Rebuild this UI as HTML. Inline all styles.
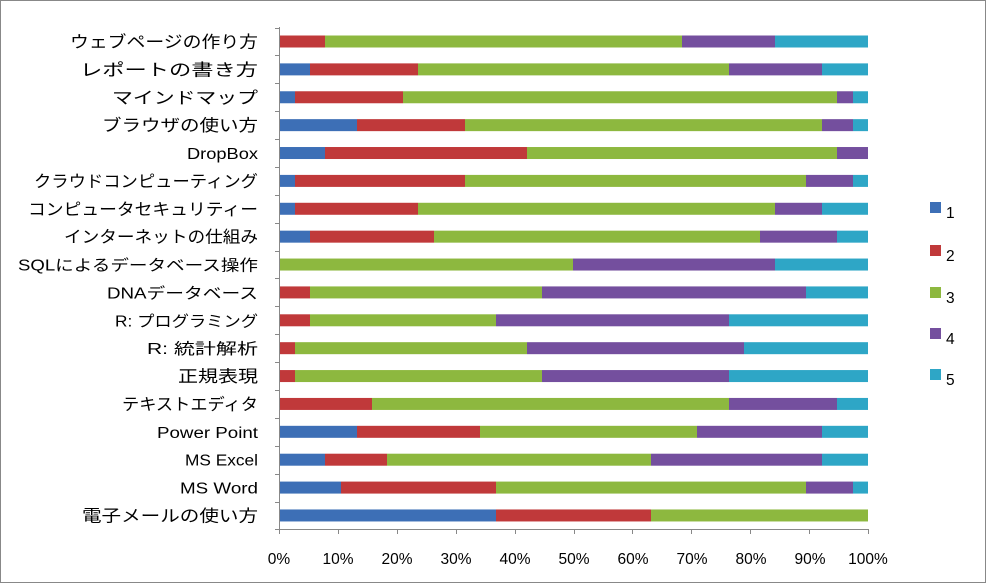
<!DOCTYPE html>
<html><head><meta charset="utf-8"><style>
html,body{margin:0;padding:0;background:#fff}
svg{display:block}
text{font-family:"Liberation Sans","Noto Sans CJK JP",sans-serif;fill:#000}
</style></head><body>
<svg width="986" height="583" xmlns="http://www.w3.org/2000/svg">
<rect x="0.5" y="0.5" width="985" height="582" fill="#fff" stroke="#888"/>
<g id="bars"></g>
<g id="axes" stroke="#888" stroke-width="1">
<line x1="279.5" y1="27" x2="279.5" y2="530"/>
<line x1="279" y1="529.5" x2="869" y2="529.5"/>
</g>
<g id="labels" font-size="16.5"></g>
<g font-size="15.5" text-anchor="middle">
<text x="279" y="564">0%</text><text x="338" y="564">10%</text><text x="397" y="564">20%</text><text x="456" y="564">30%</text><text x="515" y="564">40%</text><text x="574" y="564">50%</text><text x="633" y="564">60%</text><text x="692" y="564">70%</text><text x="751" y="564">80%</text><text x="810" y="564">90%</text><text x="868" y="564">100%</text>
</g>
<g font-size="15.5">
<rect x="930" y="202" width="11" height="11" fill="#3d6fb6"/><text x="946" y="218">1</text>
<rect x="930" y="245" width="11" height="11" fill="#c0393a"/><text x="946" y="261">2</text>
<rect x="930" y="287" width="11" height="11" fill="#8db83f"/><text x="946" y="303">3</text>
<rect x="930" y="328" width="11" height="11" fill="#744f9e"/><text x="946" y="344">4</text>
<rect x="930" y="369" width="11" height="11" fill="#2ea6c6"/><text x="946" y="385">5</text>
</g>
<script>
var C=["#3d6fb6","#c0393a","#8db83f","#744f9e","#2ea6c6"];
var rows=[
["ウェブページの作り方",[279,279,325,682,775,868],70],
["レポートの書き方",[279,310,418,729,822,868],80],
["マインドマップ",[279,295,403,837,853,868],112],
["ブラウザの使い方",[279,357,465,822,853,868],102],
["DropBox",[279,325,527,837,868,868],187],
["クラウドコンピューティング",[279,295,465,806,853,868],34],
["コンピュータセキュリティー",[279,295,418,775,822,868],28],
["インターネットの仕組み",[279,310,434,760,837,868],64],
["SQLによるデータベース操作",[279,279,279,573,775,868],18],
["DNAデータベース",[279,279,310,542,806,868],107],
["R: プログラミング",[279,279,310,496,729,868],115],
["R: 統計解析",[279,279,295,527,744,868],147],
["正規表現",[279,279,295,542,729,868],178],
["テキストエディタ",[279,279,372,729,837,868],122],
["Power Point",[279,357,480,697,822,868],157],
["MS Excel",[279,325,387,651,822,868],185],
["MS Word",[279,341,496,806,853,868],180],
["電子メールの使い方",[279,496,651,868,868,868],82]];
var ns="http://www.w3.org/2000/svg",b=document.getElementById("bars"),l=document.getElementById("labels"),ax=document.getElementById("axes");
rows.forEach(function(r,i){
 var cy=41.5+i*27.88;
 var small=/^[A-Za-z]/.test(r[0]);
 for(var k=0;k<5;k++){var w=r[1][k+1]-r[1][k];if(w<=0)continue;
  var e=document.createElementNS(ns,"rect");e.setAttribute("x",r[1][k]);e.setAttribute("y",cy-6);e.setAttribute("width",w);e.setAttribute("height",12);e.setAttribute("fill",C[k]);b.appendChild(e);}
 var t=document.createElementNS(ns,"text");t.setAttribute("x",r[2]);t.setAttribute("y",cy+6);
 t.setAttribute("textLength",258-r[2]);t.setAttribute("lengthAdjust","spacingAndGlyphs");
 if(small)t.setAttribute("font-size","15.5");t.textContent=r[0];l.appendChild(t);
 var y=Math.round(cy-13.94)+0.5;var ln=document.createElementNS(ns,"line");ln.setAttribute("x1",275);ln.setAttribute("x2",279);ln.setAttribute("y1",y);ln.setAttribute("y2",y);ax.appendChild(ln);
});
var ln=document.createElementNS(ns,"line");ln.setAttribute("x1",275);ln.setAttribute("x2",279);ln.setAttribute("y1",529.5);ln.setAttribute("y2",529.5);ax.appendChild(ln);
for(var j=0;j<=10;j++){var x=Math.round(279+j*58.9)+0.5;var t2=document.createElementNS(ns,"line");t2.setAttribute("x1",x);t2.setAttribute("x2",x);t2.setAttribute("y1",529);t2.setAttribute("y2",534);ax.appendChild(t2);}
</script>
</svg>
</body></html>
